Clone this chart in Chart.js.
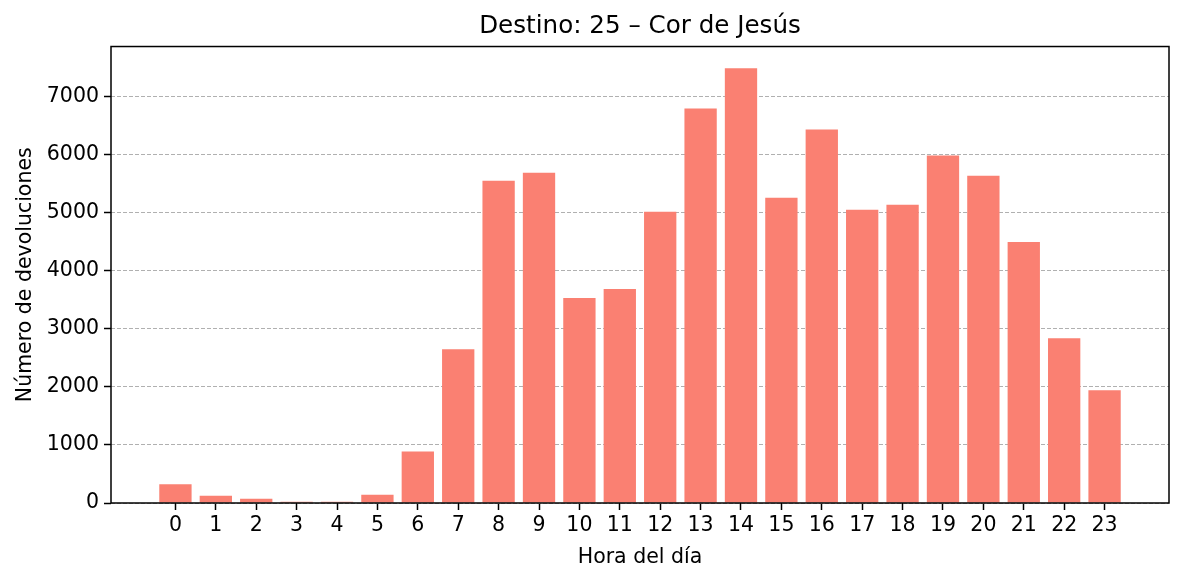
<!DOCTYPE html>
<html>
<head>
<meta charset="utf-8">
<script src="https://cdn.jsdelivr.net/npm/chart.js@4"></script>
<style>
  html, body { margin: 0; padding: 0; background: #ffffff; }
  #wrap { width: 1184px; height: 581px; position: relative; }
</style>
</head>
<body>
<div id="wrap"><canvas id="c" width="1184" height="581"></canvas></div>
<script>
const titleText = "Destino: 25 – Cor de Jesús";
const xLabel = "Hora del día";
const yLabel = "Número de devoluciones";
const hours = [0,1,2,3,4,5,6,7,8,9,10,11,12,13,14,15,16,17,18,19,20,21,22,23];
const devoluciones = [321,126,74,22,22,143,886,2648,5549,5687,3528,3684,5014,6793,7484,5256,6430,5048,5135,5982,5636,4496,2838,1940];
const yTicks = [0,1000,2000,3000,4000,5000,6000,7000];

const FONT = "'DejaVu Sans', sans-serif";

const frame = {
  id: 'frame',
  afterDatasetsDraw(chart) {
    const a = chart.chartArea, ctx = chart.ctx;
    ctx.save();
    ctx.strokeStyle = '#000000';
    ctx.lineWidth = 1.5;
    ctx.strokeRect(a.left, a.top, a.right - a.left, a.bottom - a.top);
    ctx.restore();
  }
};

new Chart(document.getElementById('c'), {
  type: 'bar',
  data: {
    datasets: [{
      data: hours.map((h, i) => ({ x: h, y: devoluciones[i] })),
      backgroundColor: '#FA8072',
      borderWidth: 0,
      barPercentage: 0.8,
      categoryPercentage: 1.0
    }]
  },
  options: {
    responsive: false,
    animation: false,
    layout: { padding: { left: 0, right: 15, top: 0, bottom: 0 } },
    plugins: {
      legend: { display: false },
      tooltip: { enabled: false },
      title: {
        display: true,
        fullSize: false,
        text: titleText,
        color: '#000000',
        font: { family: FONT, size: 24.6, weight: 'normal', lineHeight: 1.2 },
        padding: { top: 12, bottom: 5 }
      }
    },
    scales: {
      x: {
        type: 'linear',
        min: -1.595,
        max: 24.595,
        offset: false,
        afterBuildTicks: s => { s.ticks = hours.map(v => ({ value: v })); },
        afterFit: s => { s.height = 78; },
        ticks: {
          color: '#000000',
          font: { family: FONT, size: 20.5 },
          padding: 3,
          maxRotation: 0,
          autoSkip: false,
          callback: v => String(v)
        },
        grid: {
          offset: false,
          drawOnChartArea: false,
          drawTicks: true,
          tickLength: 7,
          tickColor: '#000000',
          tickWidth: 1.5
        },
        border: { display: false },
        title: {
          display: true,
          text: xLabel,
          color: '#000000',
          font: { family: FONT, size: 20.5, lineHeight: 1.2 },
          padding: { top: 10.7, bottom: 10.7 }
        }
      },
      y: {
        min: 0,
        max: 7860,
        afterBuildTicks: s => { s.ticks = yTicks.map(v => ({ value: v })); },
        afterFit: s => { s.width = 111; },
        ticks: {
          color: '#000000',
          font: { family: FONT, size: 20.5 },
          padding: 5,
          callback: v => String(v)
        },
        grid: {
          drawOnChartArea: true,
          color: '#b0b0b0',
          lineWidth: 1,
          drawTicks: true,
          tickLength: 7,
          tickColor: '#000000',
          tickWidth: 1.5,
          tickBorderDash: []
        },
        border: { display: false, dash: [4, 2] },
        title: {
          display: true,
          text: yLabel,
          color: '#000000',
          font: { family: FONT, size: 20.5, lineHeight: 1.2 },
          padding: { top: 13.7, bottom: 13.7 }
        }
      }
    }
  },
  plugins: [frame]
});
</script>
</body>
</html>
